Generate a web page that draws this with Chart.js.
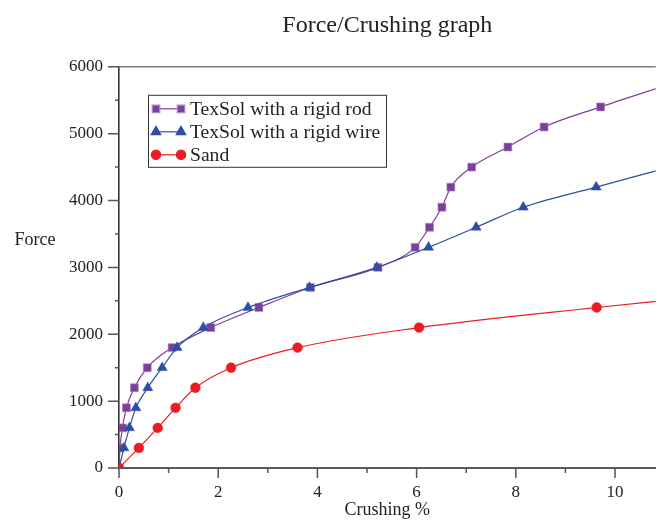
<!DOCTYPE html>
<html>
<head>
<meta charset="utf-8">
<script src="https://cdn.jsdelivr.net/npm/chart.js@4/dist/chart.umd.min.js"></script>
<style>
html,body{margin:0;padding:0;background:#fff;width:657px;height:528px;overflow:hidden;}
canvas{display:block;}
</style>
</head>
<body>
<canvas id="c" width="662" height="528"></canvas>
<script>
// ---- data ----
const rodLabel = 'TexSol with a rigid rod';
const rodX = [0, 0.02, 0.07, 0.15, 0.31, 0.57, 1.07, 1.85, 2.82, 3.86, 5.22, 5.97, 6.26, 6.51, 6.69, 7.11, 7.84, 8.57, 9.71, 11.2];
const rodY = [0, 300, 600, 900, 1200, 1500, 1800, 2100, 2400, 2700, 3000, 3300, 3600, 3900, 4200, 4500, 4800, 5100, 5400, 5763];

const wireLabel = 'TexSol with a rigid wire';
const wireX = [0, 0.1, 0.21, 0.34, 0.58, 0.87, 1.17, 1.7, 2.6, 3.84, 5.2, 6.24, 7.2, 8.15, 9.62, 11.2];
const wireY = [0, 300, 600, 900, 1200, 1500, 1800, 2100, 2400, 2700, 3000, 3300, 3600, 3900, 4200, 4520];

const sandLabel = 'Sand';
const sandX = [0, 0.4, 0.78, 1.14, 1.54, 2.26, 3.6, 6.05, 9.63, 11.2];
const sandY = [0, 300, 600, 900, 1200, 1500, 1800, 2100, 2400, 2519];

const xMajorTicks = [0, 2, 4, 6, 8, 10];
const xMinorTicks = [1, 3, 5, 7, 9];
const yMajorTicks = [0, 1000, 2000, 3000, 4000, 5000, 6000];
const yMinorTicks = [500, 1500, 2500, 3500, 4500, 5500];

const titleText = 'Force/Crushing graph';
const xTitle = 'Crushing %';
const yTitle = 'Force';

// ---- styling ----
const FONT = "'Liberation Serif', 'Times New Roman', serif";
const PURPLE = '#7B3F9E';
const BLUE = '#2D4EA2';
const RED = '#EC1C24';
const TEXT = '#222';

const pts = (xs, ys) => xs.map((x, i) => ({x: x, y: ys[i]}));

const datasets = [
  {label: rodLabel, data: pts(rodX, rodY), borderColor: PURPLE, backgroundColor: PURPLE,
   pointStyle: 'rect', pointRadius: 5.6, pointBorderColor: '#A98BC2', pointBorderWidth: 0.6,
   borderWidth: 1.2, cubicInterpolationMode: 'monotone', order: 3},
  {label: wireLabel, data: pts(wireX, wireY), borderColor: BLUE, backgroundColor: BLUE,
   pointStyle: 'triangle', pointRadius: 5.8, pointBorderColor: BLUE, pointBorderWidth: 0.5,
   borderWidth: 1.2, cubicInterpolationMode: 'monotone', order: 2},
  {label: sandLabel, data: pts(sandX, sandY), borderColor: RED, backgroundColor: RED,
   pointStyle: 'circle', pointRadius: 4.9, pointBorderColor: RED, pointBorderWidth: 0.5,
   borderWidth: 1.2, cubicInterpolationMode: 'monotone', order: 1}
];

const decor = {
  id: 'decor',
  afterDraw(chart) {
    const ctx = chart.ctx;
    const a = chart.chartArea;
    const xs = chart.scales.x, ys = chart.scales.y;
    ctx.save();
    // top frame line
    ctx.strokeStyle = '#7a7a7a';
    ctx.lineWidth = 1.6;
    ctx.beginPath(); ctx.moveTo(a.left, a.top); ctx.lineTo(a.right, a.top); ctx.stroke();
    // ticks
    ctx.strokeStyle = '#555';
    ctx.lineWidth = 1.5;
    ctx.beginPath();
    yMajorTicks.forEach(v => { const p = ys.getPixelForValue(v); ctx.moveTo(a.left - 11, p); ctx.lineTo(a.left, p); });
    yMinorTicks.forEach(v => { const p = ys.getPixelForValue(v); ctx.moveTo(a.left - 4, p); ctx.lineTo(a.left, p); });
    xMajorTicks.forEach(v => { const p = xs.getPixelForValue(v); ctx.moveTo(p, a.bottom); ctx.lineTo(p, a.bottom + 10); });
    xMinorTicks.forEach(v => { const p = xs.getPixelForValue(v); ctx.moveTo(p, a.bottom); ctx.lineTo(p, a.bottom + 5); });
    ctx.stroke();
    // y title (horizontal)
    ctx.fillStyle = TEXT;
    ctx.font = '18px ' + FONT;
    ctx.textAlign = 'center';
    ctx.textBaseline = 'middle';
    ctx.fillText(yTitle, 35, ys.getPixelForValue(3400));
    // legend box
    const bx = a.left + 29, by = a.top + 28, bw = 238, bh = 72;
    ctx.fillStyle = '#fff';
    ctx.fillRect(bx, by, bw, bh);
    ctx.strokeStyle = '#333';
    ctx.lineWidth = 1;
    ctx.strokeRect(bx + 0.5, by + 0.5, bw, bh);
    [0, 1, 2].forEach((di, i) => {
      const ds = chart.data.datasets[di];
      const yy = by + 14 + i * 23;
      const x1 = bx + 8, x2 = bx + 33;
      ctx.strokeStyle = ds.borderColor;
      ctx.lineWidth = 1.2;
      ctx.beginPath(); ctx.moveTo(x1, yy); ctx.lineTo(x2, yy); ctx.stroke();
      ctx.fillStyle = ds.backgroundColor;
      ctx.strokeStyle = ds.pointBorderColor;
      const opt = {pointStyle: ds.pointStyle, radius: ds.pointRadius * 0.95, rotation: 0, borderWidth: ds.pointBorderWidth};
      Chart.helpers.drawPoint(ctx, opt, x1, yy);
      Chart.helpers.drawPoint(ctx, opt, x2, yy);
      ctx.fillStyle = TEXT;
      ctx.font = '19.6px ' + FONT;
      ctx.textAlign = 'left';
      ctx.textBaseline = 'middle';
      ctx.fillText(ds.label, bx + 42, yy + 1);
    });
    ctx.restore();
  }
};

new Chart(document.getElementById('c'), {
  type: 'line',
  data: {datasets: datasets},
  options: {
    responsive: false,
    animation: false,
    layout: {padding: 0},
    plugins: {
      legend: {display: false},
      tooltip: {enabled: false},
      title: {
        display: true, text: titleText, fullSize: false, color: TEXT,
        font: {family: FONT, size: 24, weight: 'normal'},
        padding: {top: 11, bottom: 27}
      }
    },
    scales: {
      x: {
        type: 'linear', min: 0, max: 10.82,
        afterFit: s => { s.height = 60; s.paddingRight = 0; s.paddingLeft = 0; },
        afterBuildTicks: s => { s.ticks = xMajorTicks.map(v => ({value: v})); },
        grid: {display: false, drawTicks: true, tickLength: 10},
        border: {display: true, color: '#5a5a5a', width: 2},
        ticks: {color: TEXT, font: {family: FONT, size: 17}, padding: 4, maxRotation: 0, autoSkip: false,
                callback: v => String(v)},
        title: {display: true, text: xTitle, color: TEXT, font: {family: FONT, size: 18}, padding: {top: 0, bottom: 7}}
      },
      y: {
        type: 'linear', min: 0, max: 6000,
        afterFit: s => { s.width = 119; },
        afterBuildTicks: s => { s.ticks = yMajorTicks.map(v => ({value: v})); },
        grid: {display: false, drawTicks: true, tickLength: 11},
        border: {display: true, color: '#333', width: 1.6},
        ticks: {color: TEXT, font: {family: FONT, size: 17}, padding: 5, autoSkip: false,
                callback: v => String(v)}
      }
    }
  },
  plugins: [decor]
});
</script>
</body>
</html>
